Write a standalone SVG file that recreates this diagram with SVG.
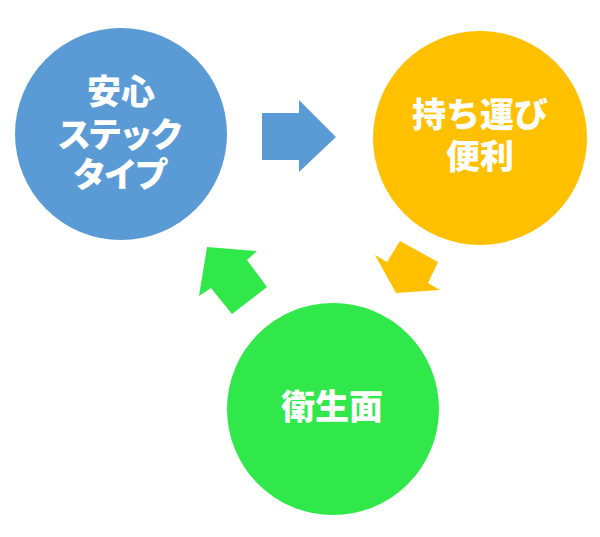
<svg xmlns="http://www.w3.org/2000/svg" width="600" height="537" viewBox="0 0 600 537">
<style>
.lbl{font-family:"Noto Sans CJK JP","Noto Sans CJK SC",sans-serif;font-weight:900;font-size:34px;fill:#ffffff;text-anchor:middle}
.kana{letter-spacing:-3px}
.blue{fill:#5B9BD5}
.yellow{fill:#FFC000}
.green{fill:#31E84A}
</style>
<rect width="600" height="537" fill="#ffffff"/>
<g id="connectors">
<polygon class="blue" points="262,113 299,113 299,100 336,137 299,172 299,160 262,160"/>
<polygon class="yellow" points="375,255 387,262 400,241 438,262 428,283 440,290 396,293"/>
<polygon class="green" points="207,247 257,251 247,260 267,287 232,314 211,288 199,296"/>
</g>
<g id="node-anshin">
<circle class="blue" cx="121" cy="134" r="106"/>
<text class="lbl"><tspan x="121" y="104">安心</tspan><tspan class="kana" x="119" y="147">ステック</tspan><tspan class="kana" x="119" y="187">タイプ</tspan></text>
</g>
<g id="node-mochihakobi">
<circle class="yellow" cx="480" cy="138" r="107"/>
<text class="lbl"><tspan x="480" y="127">持ち運び</tspan><tspan x="480" y="169">便利</tspan></text>
</g>
<g id="node-eisei">
<circle class="green" cx="333" cy="409" r="106"/>
<text class="lbl" x="332" y="419">衛生面</text>
</g>
</svg>
